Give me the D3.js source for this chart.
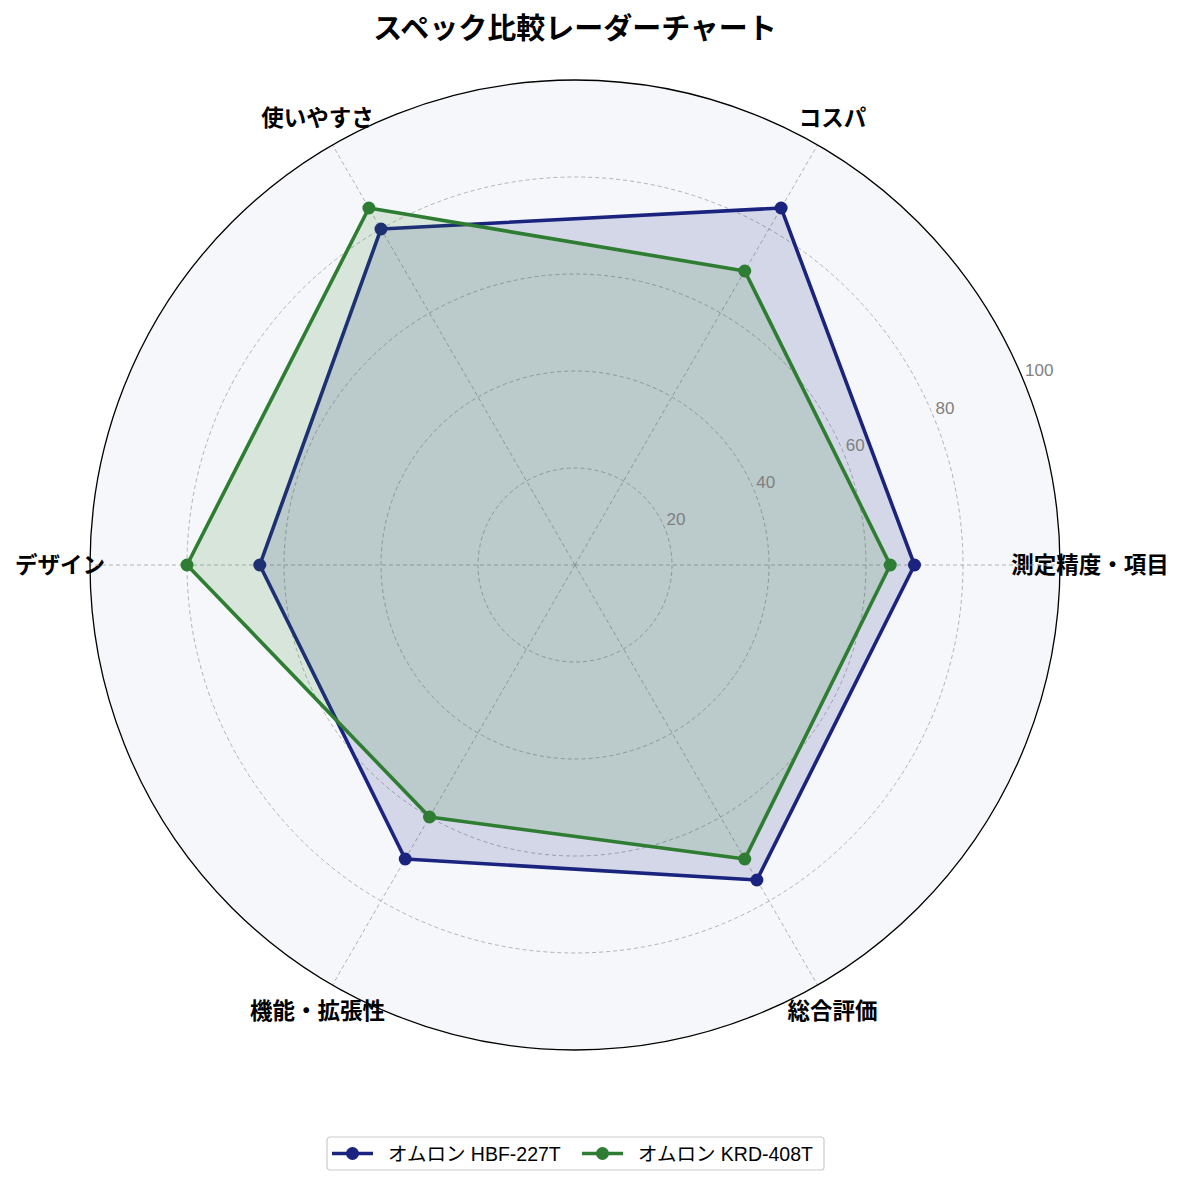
<!DOCTYPE html>
<html>
<head>
<meta charset="utf-8">
<script src="https://cdn.jsdelivr.net/npm/d3@7"></script>
<style>
  body { margin: 0; background: #fff; }
  text { font-family: "Liberation Sans", "Noto Sans CJK JP", sans-serif; }
</style>
</head>
<body>
<script>
var w = 1185;
var h = 1186;

// chart data
var categories = ["測定精度・項目", "コスパ", "使いやすさ", "デザイン", "機能・拡張性", "総合評価"];
var seriesNames = ["オムロン HBF-227T", "オムロン KRD-408T"];
var hbfValues = [70, 85, 80, 65, 70, 75];
var krdValues = [65, 70, 85, 80, 60, 70];
var tickValues = [20, 40, 60, 80, 100];
var colors = ["#1a237e", "#2e7d32"];

var cx = 575, cy = 565, radius = 485;

var r = d3.scaleLinear().domain([0, 100]).range([0, radius]);
// first axis points right, going counter-clockwise
var angle = d3.scaleLinear().domain([0, categories.length]).range([0, 2 * Math.PI]);

function pt(i, v) {
    var a = angle(i);
    return [cx + r(v) * Math.cos(a), cy - r(v) * Math.sin(a)];
}

var svg = d3.select("body")
    .append("svg")
    .attr("width", w)
    .attr("height", h);

// title
svg.append("text")
    .attr("x", cx)
    .attr("y", 39)
    .attr("text-anchor", "middle")
    .attr("font-size", 29)
    .attr("font-weight", "bold")
    .text("スペック比較レーダーチャート");

// polar background
svg.append("circle")
    .attr("cx", cx).attr("cy", cy).attr("r", radius)
    .attr("fill", "#f5f7fa");

// category labels
svg.selectAll(".cat")
    .data(categories)
    .enter()
    .append("text")
    .attr("class", "cat")
    .attr("x", function (d, i) { return cx + (radius + 30) * Math.cos(angle(i)); })
    .attr("y", function (d, i) { return cy - (radius + 30) * Math.sin(angle(i)); })
    .attr("text-anchor", "middle")
    .attr("dominant-baseline", "central")
    .attr("font-size", 22.5)
    .attr("font-weight", "bold")
    .text(function (d) { return d; });

// grid circles
svg.selectAll(".ring")
    .data(tickValues.slice(0, -1))
    .enter()
    .append("circle")
    .attr("cx", cx).attr("cy", cy)
    .attr("r", function (d) { return r(d); })
    .attr("fill", "none")
    .attr("stroke", "#aaa")
    .attr("stroke-width", 0.9)
    .attr("stroke-dasharray", "4,3");

// spokes
svg.selectAll(".spoke")
    .data(categories)
    .enter()
    .append("line")
    .attr("x1", cx).attr("y1", cy)
    .attr("x2", function (d, i) { return pt(i, 100)[0]; })
    .attr("y2", function (d, i) { return pt(i, 100)[1]; })
    .attr("stroke", "#aaa")
    .attr("stroke-width", 0.9)
    .attr("stroke-dasharray", "4,3");

// outer circle
svg.append("circle")
    .attr("cx", cx).attr("cy", cy).attr("r", radius)
    .attr("fill", "none")
    .attr("stroke", "#000")
    .attr("stroke-width", 1.3);

var line = d3.line()
    .x(function (d) { return d[0]; })
    .y(function (d) { return d[1]; })
    .curve(d3.curveLinearClosed);

[hbfValues, krdValues].forEach(function (vals, k) {
    var pts = vals.map(function (v, i) { return pt(i, v); });
    svg.append("path")
        .attr("d", line(pts))
        .attr("fill", colors[k])
        .attr("fill-opacity", 0.15)
        .attr("stroke", colors[k])
        .attr("stroke-width", 3.6)
        .attr("stroke-linejoin", "round");
    svg.selectAll(".dot" + k)
        .data(pts)
        .enter()
        .append("circle")
        .attr("cx", function (d) { return d[0]; })
        .attr("cy", function (d) { return d[1]; })
        .attr("r", 6.5)
        .attr("fill", colors[k]);
});

// radial tick labels at 22.5 degrees
var ta = 22.5 * Math.PI / 180;
svg.selectAll(".tick")
    .data(tickValues)
    .enter()
    .append("text")
    .attr("x", function (d) { return cx + r(d) * Math.cos(ta) + 2; })
    .attr("y", function (d) { return cy - r(d) * Math.sin(ta) - 3; })
    .attr("text-anchor", "start")
    .attr("font-size", 17)
    .attr("fill", "#808080")
    .text(function (d) { return d; });

// legend
var lg = svg.append("g").attr("transform", "translate(327,1137)");
lg.append("rect")
    .attr("width", 497).attr("height", 33)
    .attr("rx", 3)
    .attr("fill", "#fff")
    .attr("stroke", "#ccc")
    .attr("stroke-width", 1.2);
var offsets = [5, 255];
seriesNames.forEach(function (name, k) {
    var g = lg.append("g").attr("transform", "translate(" + offsets[k] + ",16.5)");
    g.append("line")
        .attr("x1", 0).attr("x2", 41)
        .attr("stroke", colors[k])
        .attr("stroke-width", 3.6);
    g.append("circle")
        .attr("cx", 20.5).attr("r", 6.5)
        .attr("fill", colors[k]);
    g.append("text")
        .attr("x", 56)
        .attr("dominant-baseline", "central")
        .attr("font-size", 19.5)
        .text(name);
});
</script>
</body>
</html>
